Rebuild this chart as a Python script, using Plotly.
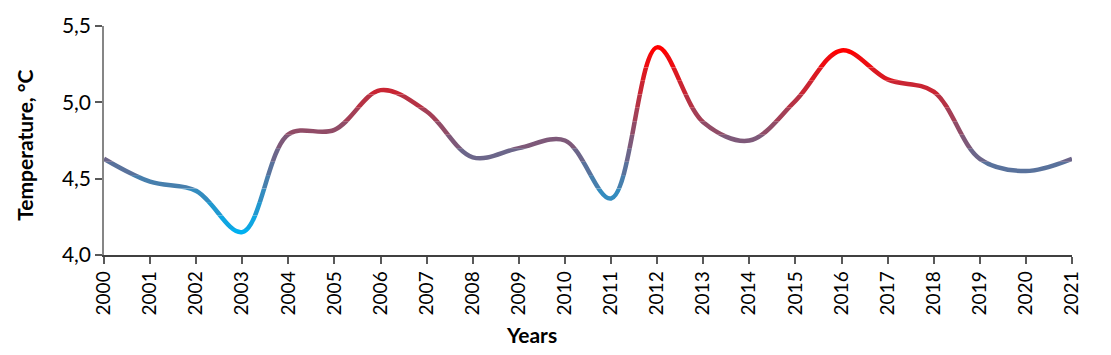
import plotly.graph_objects as go

# ---- data ----
years = list(range(2000, 2022))
temperature = [4.63, 4.48, 4.42, 4.15, 4.79, 4.82, 5.08, 4.94, 4.64, 4.70, 4.75,
               4.37, 5.36, 4.87, 4.75, 5.01, 5.34, 5.15, 5.07, 4.63, 4.55, 4.63]
y_ticks = [4.0, 4.5, 5.0, 5.5]

Y_MIN, Y_MAX = 4.0, 5.5
N_BANDS = 17
COLD = (0, 176, 240)
HOT = (255, 0, 0)
vmin, vmax = min(temperature), max(temperature)

def band_color(v):
    t = (v - vmin) / (vmax - vmin)
    t = max(0.0, min(1.0, t))
    r, g, b = (round(c0 + (c1 - c0) * t) for c0, c1 in zip(COLD, HOT))
    return f"rgb({r},{g},{b})"

fig = go.Figure()
font = "Lato, 'Open Sans', sans-serif"

# invisible trace on the main axes so they render
fig.add_trace(go.Scatter(x=years, y=temperature, mode="lines",
                         line=dict(color="rgba(0,0,0,0)", width=1),
                         hoverinfo="skip", showlegend=False))

# vertical colour gradient: the same spline drawn in horizontal bands
# (one hidden y-axis per band, bands overlap slightly so no seams show)
layout_axes = {}
step = (Y_MAX - Y_MIN) / N_BANDS
PLOT_H = 355 - 17 - 100
pad = 1.0 / PLOT_H  # ~1px overlap, in paper units
for i in range(N_BANDS):
    d0 = max(0.0, i / N_BANDS - pad)
    d1 = min(1.0, (i + 1) / N_BANDS + pad)
    lo = Y_MIN + d0 * (Y_MAX - Y_MIN)
    hi = Y_MIN + d1 * (Y_MAX - Y_MIN)
    name = f"y{i + 2}"
    fig.add_trace(go.Scatter(
        x=years, y=temperature, mode="lines", xaxis="x", yaxis=name,
        line=dict(color=band_color(Y_MIN + (i + 0.5) * step), width=4.5,
                  shape="spline", smoothing=1.0, simplify=False),
        hoverinfo="skip", showlegend=False))
    layout_axes[f"yaxis{i + 2}"] = dict(
        domain=[d0, d1], range=[lo, hi],
        anchor="x", visible=False, fixedrange=True)

fig.update_layout(
    width=1111, height=355,
    margin=dict(l=104, r=39, t=17, b=100),
    paper_bgcolor="white", plot_bgcolor="white",
    separators=", ",
    font=dict(family=font, size=18, color="#000000"),
    xaxis=dict(range=[years[0], years[-1]], tickmode="array", tickvals=years,
               ticktext=[str(y) for y in years], tickangle=-90,
               showgrid=False, zeroline=False, showline=True,
               linecolor="#404040", linewidth=1.5, fixedrange=True,
               ticks="outside", ticklen=7, tickcolor="#595959", tickwidth=1.5,
               tickfont=dict(family=font, size=19, color="#000000")),
    yaxis=dict(domain=[0, 1], range=[Y_MIN, Y_MAX], tickmode="array",
               tickvals=y_ticks, tickformat=".1f",
               showgrid=False, zeroline=False, showline=True,
               linecolor="#868686", linewidth=1.5, fixedrange=True,
               ticks="outside", ticklen=7, tickcolor="#595959", tickwidth=1.5,
               tickfont=dict(family=font, size=21, color="#000000")),
    annotations=[
        dict(text="<b>Years</b>", xref="paper", yref="paper", x=0.442, y=-0.349,
             xanchor="center", yanchor="middle", showarrow=False,
             font=dict(family=font, size=21, color="#000000")),
        dict(text="<b>Temperature, °C</b>", xref="paper", yref="paper",
             x=-0.0816, y=0.477, textangle=-90, xanchor="center", yanchor="middle",
             showarrow=False, font=dict(family=font, size=21, color="#000000")),
    ],
    **layout_axes,
)

fig.write_html("out.html", config={"displayModeBar": False},
               post_script="document.body.style.margin='0';document.body.style.overflow='hidden';")
